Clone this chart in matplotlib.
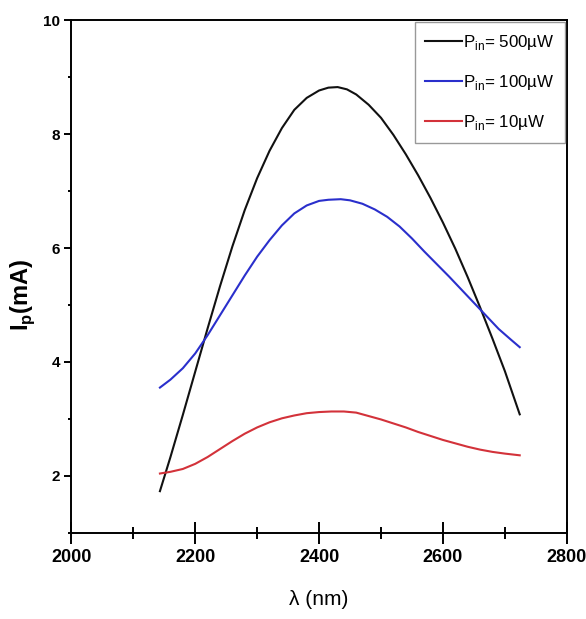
import matplotlib
matplotlib.use("Agg")
import matplotlib.pyplot as plt
from matplotlib.ticker import MultipleLocator

# photocurrent vs wavelength
wl_500 = [2143, 2160, 2180, 2200, 2220, 2240, 2260, 2280, 2300, 2320, 2340, 2360,
          2380, 2400, 2415, 2430, 2445, 2460, 2480, 2500, 2520, 2540, 2560, 2580,
          2600, 2620, 2640, 2660, 2680, 2700, 2724]
ip_500 = [1.73, 2.33, 3.07, 3.83, 4.59, 5.33, 6.03, 6.67, 7.23, 7.71, 8.11, 8.43,
          8.64, 8.77, 8.82, 8.83, 8.79, 8.70, 8.52, 8.29, 7.99, 7.65, 7.28, 6.88,
          6.45, 5.99, 5.49, 4.96, 4.41, 3.84, 3.08]

wl_100 = [2143, 2160, 2180, 2200, 2220, 2240, 2260, 2280, 2300, 2320, 2340, 2360,
          2380, 2400, 2415, 2435, 2450, 2470, 2490, 2510, 2530, 2550, 2570, 2590,
          2610, 2630, 2650, 2670, 2690, 2710, 2724]
ip_100 = [3.55, 3.69, 3.89, 4.15, 4.47, 4.82, 5.17, 5.52, 5.85, 6.14, 6.40, 6.61,
          6.75, 6.83, 6.85, 6.86, 6.84, 6.78, 6.68, 6.55, 6.38, 6.17, 5.94, 5.72,
          5.50, 5.27, 5.04, 4.81, 4.58, 4.39, 4.26]

wl_10 = [2143, 2160, 2180, 2200, 2220, 2240, 2260, 2280, 2300, 2320, 2340, 2360,
         2380, 2400, 2420, 2440, 2460, 2480, 2500, 2520, 2540, 2560, 2580, 2600,
         2620, 2640, 2660, 2680, 2700, 2724]
ip_10 = [2.04, 2.07, 2.12, 2.21, 2.33, 2.47, 2.61, 2.74, 2.85, 2.94, 3.01, 3.06,
         3.10, 3.12, 3.13, 3.13, 3.11, 3.05, 2.99, 2.92, 2.85, 2.77, 2.70, 2.63,
         2.57, 2.51, 2.46, 2.42, 2.39, 2.36]

labels = [r"P$_{\mathregular{in}}$= 500µW",
          r"P$_{\mathregular{in}}$= 100µW",
          r"P$_{\mathregular{in}}$= 10µW"]
colors = ["#111111", "#2a2fcc", "#d3323a"]

plt.rcParams["font.family"] = ["Liberation Sans", "DejaVu Sans"]
plt.rcParams["mathtext.fontset"] = "custom"
plt.rcParams["mathtext.rm"] = "Liberation Sans"

fig = plt.figure(figsize=(5.86, 6.19), dpi=100)
ax = fig.add_axes([0.1218, 0.1394, 0.8454, 0.8275])

for wl, ip, c, lab in zip([wl_500, wl_100, wl_10], [ip_500, ip_100, ip_10], colors, labels):
    ax.plot(wl, ip, color=c, lw=1.5, label=lab)

ax.set_xlim(2000, 2800)
ax.set_ylim(1, 10)
ax.xaxis.set_major_locator(MultipleLocator(200))
ax.xaxis.set_minor_locator(MultipleLocator(100))
ax.yaxis.set_major_locator(MultipleLocator(2))
ax.yaxis.set_minor_locator(MultipleLocator(1))

for s in ax.spines.values():
    s.set_linewidth(1.4)
ax.tick_params(axis="x", which="major", direction="inout", length=16, width=1.4, pad=4,
               labelsize=13)
ax.tick_params(axis="x", which="minor", direction="inout", length=9, width=1.4)
ax.tick_params(axis="y", which="major", direction="out", length=5, width=1.4, pad=3,
               labelsize=11)
ax.tick_params(axis="y", which="minor", direction="out", length=2.5, width=1.4)
for t in ax.get_xticklabels() + ax.get_yticklabels():
    t.set_fontweight("bold")

ax.set_xlabel("λ (nm)", fontsize=15)
ax.set_ylabel(r"I$_{\mathregular{p}}$(mA)", fontsize=17, fontweight="bold")
ax.xaxis.set_label_coords(0.5, -0.112)
ax.yaxis.set_label_coords(-0.07, 0.464)

leg = ax.legend(loc="upper right", fontsize=12.2, frameon=True, fancybox=False,
                handlelength=2.2, handletextpad=0.05, labelspacing=1.25,
                borderpad=0.62, borderaxespad=0.1)
leg.get_frame().set_edgecolor("#808080")
leg.get_frame().set_linewidth(1.0)

fig.savefig("out.png", dpi=100)
